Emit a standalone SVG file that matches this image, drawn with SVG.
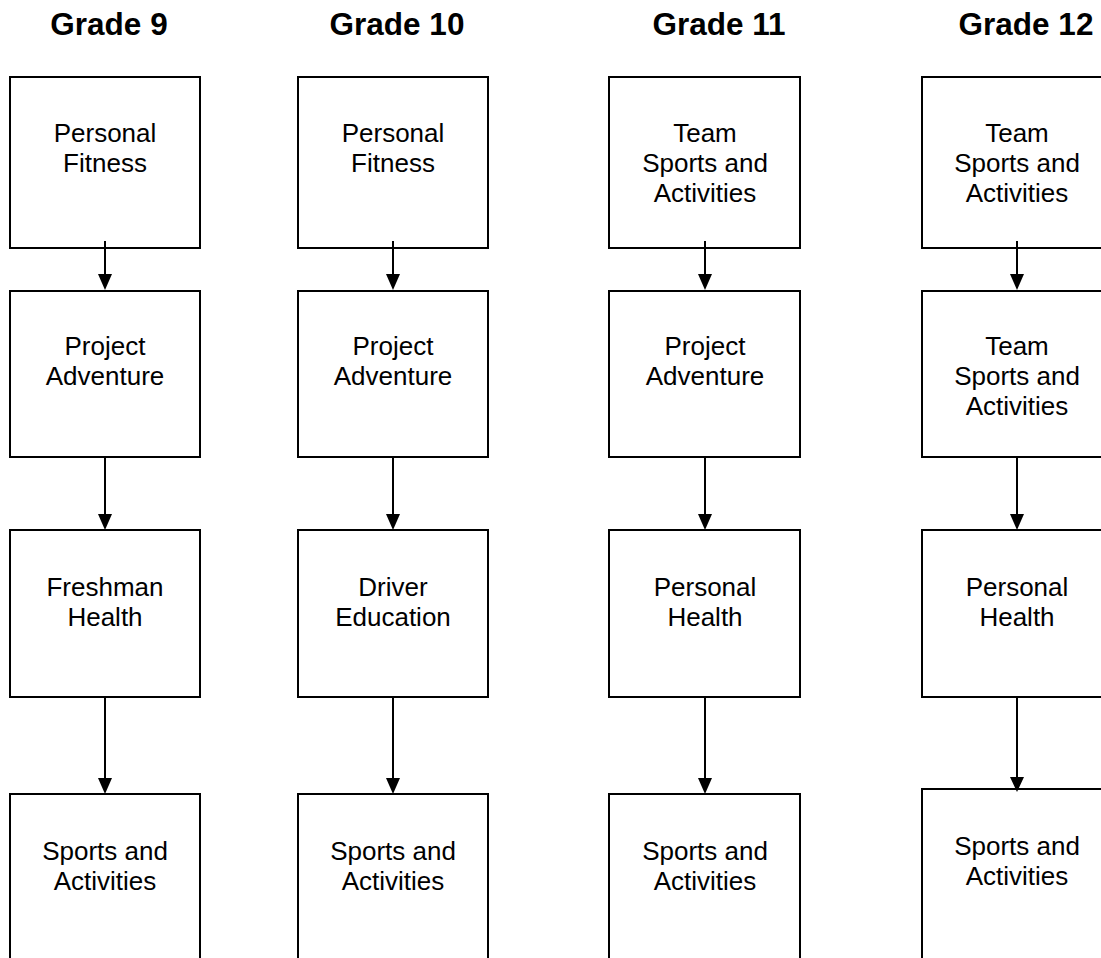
<svg xmlns="http://www.w3.org/2000/svg" width="1101" height="958" viewBox="0 0 1101 958">
<style>
.bg{fill:#ffffff}
.box{fill:#ffffff;stroke:#000000;stroke-width:2}
.lbl{font-family:"Liberation Sans",Arial,sans-serif;font-size:26px;fill:#000000;text-anchor:middle}
.hdr{font-family:"Liberation Sans",Arial,sans-serif;font-size:31.5px;font-weight:bold;fill:#000000;text-anchor:middle}
.ln{stroke:#000000;stroke-width:2;fill:none}
.hd{fill:#000000;stroke:none}
</style>
<rect class="bg" x="0" y="0" width="1101" height="958"/>
<g id="headers">
<text class="hdr" x="109" y="35">Grade 9</text>
<text class="hdr" x="397" y="35">Grade 10</text>
<text class="hdr" x="719" y="35">Grade 11</text>
<text class="hdr" x="1026" y="35">Grade 12</text>
</g>
<g id="g9-r1"><rect class="box" x="10" y="77" width="190" height="171"/><text class="lbl" x="105" y="142">Personal</text><text class="lbl" x="105" y="172">Fitness</text></g>
<g id="g9-r2"><rect class="box" x="10" y="291" width="190" height="166"/><text class="lbl" x="105" y="355">Project</text><text class="lbl" x="105" y="385">Adventure</text></g>
<g id="g9-r3"><rect class="box" x="10" y="530" width="190" height="167"/><text class="lbl" x="105" y="596">Freshman</text><text class="lbl" x="105" y="626">Health</text></g>
<g id="g9-r4"><rect class="box" x="10" y="794" width="190" height="200"/><text class="lbl" x="105" y="860">Sports and</text><text class="lbl" x="105" y="890">Activities</text></g>
<g id="g10-r1"><rect class="box" x="298" y="77" width="190" height="171"/><text class="lbl" x="393" y="142">Personal</text><text class="lbl" x="393" y="172">Fitness</text></g>
<g id="g10-r2"><rect class="box" x="298" y="291" width="190" height="166"/><text class="lbl" x="393" y="355">Project</text><text class="lbl" x="393" y="385">Adventure</text></g>
<g id="g10-r3"><rect class="box" x="298" y="530" width="190" height="167"/><text class="lbl" x="393" y="596">Driver</text><text class="lbl" x="393" y="626">Education</text></g>
<g id="g10-r4"><rect class="box" x="298" y="794" width="190" height="200"/><text class="lbl" x="393" y="860">Sports and</text><text class="lbl" x="393" y="890">Activities</text></g>
<g id="g11-r1"><rect class="box" x="609" y="77" width="191" height="171"/><text class="lbl" x="705" y="142">Team</text><text class="lbl" x="705" y="172">Sports and</text><text class="lbl" x="705" y="202">Activities</text></g>
<g id="g11-r2"><rect class="box" x="609" y="291" width="191" height="166"/><text class="lbl" x="705" y="355">Project</text><text class="lbl" x="705" y="385">Adventure</text></g>
<g id="g11-r3"><rect class="box" x="609" y="530" width="191" height="167"/><text class="lbl" x="705" y="596">Personal</text><text class="lbl" x="705" y="626">Health</text></g>
<g id="g11-r4"><rect class="box" x="609" y="794" width="191" height="200"/><text class="lbl" x="705" y="860">Sports and</text><text class="lbl" x="705" y="890">Activities</text></g>
<g id="g12-r1"><rect class="box" x="922" y="77" width="190" height="171"/><text class="lbl" x="1017" y="142">Team</text><text class="lbl" x="1017" y="172">Sports and</text><text class="lbl" x="1017" y="202">Activities</text></g>
<g id="g12-r2"><rect class="box" x="922" y="291" width="190" height="166"/><text class="lbl" x="1017" y="355">Team</text><text class="lbl" x="1017" y="385">Sports and</text><text class="lbl" x="1017" y="415">Activities</text></g>
<g id="g12-r3"><rect class="box" x="922" y="530" width="190" height="167"/><text class="lbl" x="1017" y="596">Personal</text><text class="lbl" x="1017" y="626">Health</text></g>
<g id="g12-r4"><rect class="box" x="922" y="789" width="190" height="200"/><text class="lbl" x="1017" y="855">Sports and</text><text class="lbl" x="1017" y="885">Activities</text></g>
<g id="connectors">
<path class="ln" d="M105 241V275M105 457V515M105 697V779"/>
<path class="hd" d="M98 274H112L105 290ZM98 514H112L105 530ZM98 778H112L105 794Z"/>
<path class="ln" d="M393 241V275M393 457V515M393 697V779"/>
<path class="hd" d="M386 274H400L393 290ZM386 514H400L393 530ZM386 778H400L393 794Z"/>
<path class="ln" d="M705 241V275M705 457V515M705 697V779"/>
<path class="hd" d="M698 274H712L705 290ZM698 514H712L705 530ZM698 778H712L705 794Z"/>
<path class="ln" d="M1017 241V275M1017 457V515M1017 697V778"/>
<path class="hd" d="M1010 274H1024L1017 290ZM1010 514H1024L1017 530ZM1010 777H1024L1017 792Z"/>
</g>
</svg>
